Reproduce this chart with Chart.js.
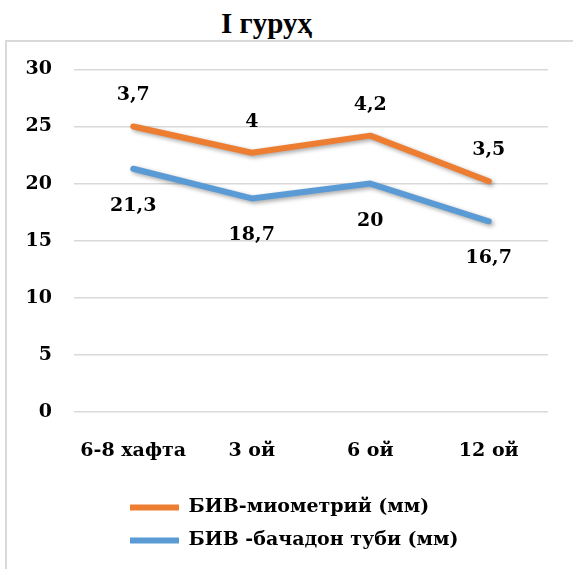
<!DOCTYPE html>
<html>
<head>
<meta charset="utf-8">
<script src="https://cdn.jsdelivr.net/npm/chart.js@4"></script>
<style>
  html, body { margin: 0; background: #fff; overflow: hidden; }
  #title {
    position: absolute; left: 0; top: 9px; width: 533px;
    text-align: center; font: bold 29px/29px "Liberation Serif", serif; color: #000;
  }
  #frame {
    position: absolute; left: 5px; top: 40px; width: 600px; height: 527px;
    border-left: 2px solid #d9d9d9; border-top: 2px solid #d9d9d9;
  }
  #wrap { position: absolute; left: 0; top: -6px; width: 566px; height: 533px; }
</style>
</head>
<body>
<div id="title">I гуруҳ</div>
<div id="frame">
  <div id="wrap"><canvas id="myChart"></canvas></div>
</div>
<script>
const categories = ["6-8 хафта", "3 ой", "6 ой", "12 ой"];
const tubeValues = [21.3, 18.7, 20, 16.7];      // БИВ -бачадон туби
const myometriumValues = [3.7, 4, 4.2, 3.5];    // БИВ-миометрий, stacked on top
const seriesNames = ["БИВ -бачадон туби (мм)", "БИВ-миометрий (мм)"];

const font = { family: "DejaVu Serif", weight: "bold", size: 19 };

const fmt = (v) => String(v).replace(".", ",");

// shadow under lines + value labels like in excel
const valueLabels = {
  id: "valueLabels",
  beforeDatasetsDraw(chart) {
    const ctx = chart.ctx;
    ctx.save();
    ctx.shadowColor = "rgba(0,0,0,0.35)";
    ctx.shadowBlur = 4;
    ctx.shadowOffsetX = 2;
    ctx.shadowOffsetY = 2;
  },
  afterDatasetsDraw(chart) {
    const ctx = chart.ctx;
    ctx.restore();
    ctx.save();
    ctx.font = "bold 19px 'DejaVu Serif'";
    ctx.fillStyle = "#000";
    ctx.textAlign = "center";
    ctx.textBaseline = "middle";
    chart.data.datasets.forEach((ds, i) => {
      const meta = chart.getDatasetMeta(i);
      meta.data.forEach((pt, j) => {
        const dy = i === 1 ? -31 : 37;
        ctx.fillText(fmt(ds.data[j]), pt.x, pt.y + dy);
      });
    });
    ctx.restore();
  },
};

// legend rows start under the plot, left aligned
const legendShift = {
  id: "legendShift",
  afterLayout(chart) {
    chart.legend.left += 109;
  },
};

const data = {
  labels: categories,
  datasets: [
    {
      label: seriesNames[0],
      data: tubeValues,
      borderColor: "#5b9bd5",
      backgroundColor: "#5b9bd5",
      borderWidth: 6,
      borderCapStyle: "round",
      borderJoinStyle: "round",
      pointRadius: 0,
      tension: 0,
    },
    {
      label: seriesNames[1],
      data: myometriumValues,
      borderColor: "#ed7d31",
      backgroundColor: "#ed7d31",
      borderWidth: 6,
      borderCapStyle: "round",
      borderJoinStyle: "round",
      pointRadius: 0,
      tension: 0,
    },
  ],
};

const config = {
  type: "line",
  data: data,
  plugins: [valueLabels, legendShift],
  options: {
    responsive: true,
    maintainAspectRatio: false,
    animation: false,
    layout: { padding: { top: 26, right: 25, bottom: 9, left: 0 } },
    plugins: {
      tooltip: { enabled: false },
      legend: {
        position: "bottom",
        align: "start",
        reverse: true,
        labels: {
          usePointStyle: true,
          pointStyle: "line",
          pointStyleWidth: 49,
          padding: 14,
          color: "#000",
          font: font,
        },
      },
    },
    scales: {
      x: {
        offset: true,
        grid: { display: false },
        border: { display: false },
        ticks: { color: "#000", font: font, padding: 20 },
        afterFit: (scale) => { scale.height = 72; },
      },
      y: {
        stacked: true,
        min: 0,
        max: 30,
        ticks: { stepSize: 5, color: "#000", font: font, padding: 22 },
        grid: { color: "#d9d9d9", lineWidth: 1.5, drawTicks: false },
        border: { display: false },
        afterFit: (scale) => { scale.width = 67; },
      },
    },
  },
};

const myChart = new Chart(document.getElementById("myChart").getContext("2d"), config);
</script>
</body>
</html>
